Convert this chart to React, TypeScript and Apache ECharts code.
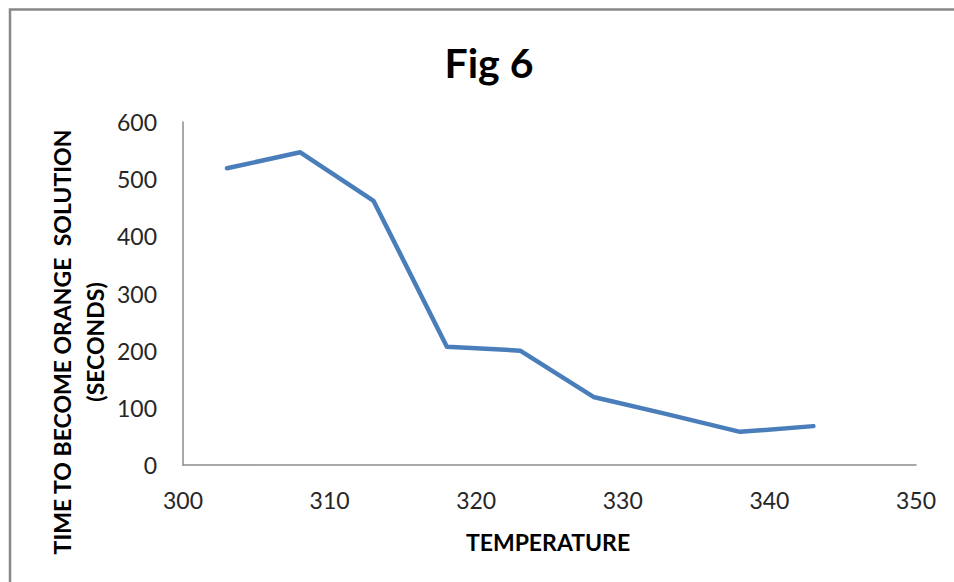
import React, { useEffect, useRef } from "react";
import * as echarts from "echarts";

const temperature = [303, 308, 313, 318, 323, 328, 333, 338, 343];
const timeSeconds = [519, 547, 462, 207, 200, 119, 89, 58, 68];

const chartTitle = "Fig 6";
const xAxisTitle = "TEMPERATURE";
const yAxisTitle = "TIME TO BECOME ORANGE  SOLUTION\n(SECONDS)";

const FONT = "Lato, 'Open Sans', sans-serif";

export default function App() {
  const ref = useRef<HTMLDivElement>(null);

  useEffect(() => {
    if (!ref.current) return;
    const chart = echarts.init(ref.current, undefined, { renderer: "svg" });
    chart.setOption({
      animation: false,
      backgroundColor: "#ffffff",
      grid: { left: 183, top: 122, right: 38, bottom: 117 },
      xAxis: {
        type: "value",
        min: 300,
        max: 350,
        interval: 10,
        splitLine: { show: false },
        axisTick: { show: false },
        axisLine: { show: true, lineStyle: { color: "#8c8c8c", width: 1.5 } },
        axisLabel: { color: "#262626", fontFamily: FONT, fontSize: 23, margin: 23 },
      },
      yAxis: {
        type: "value",
        min: 0,
        max: 600,
        interval: 100,
        splitLine: { show: false },
        axisTick: { show: false },
        axisLine: { show: true, lineStyle: { color: "#8c8c8c", width: 1.5 } },
        axisLabel: { color: "#262626", fontFamily: FONT, fontSize: 23, margin: 26 },
      },
      series: [
        {
          type: "line",
          data: temperature.map((t, i) => [t, timeSeconds[i]]),
          showSymbol: false,
          symbol: "none",
          lineStyle: { color: "#4a7ebb", width: 4.5, join: "round", cap: "round" },
        },
      ],
      graphic: [
        {
          type: "rect",
          shape: { x: 10, y: 9.5, width: 1000, height: 700 },
          style: { fill: "none", stroke: "#888888", lineWidth: 2.5 },
          silent: true,
        },
        {
          type: "text",
          x: 489,
          y: 62,
          style: {
            text: chartTitle,
            fontFamily: FONT,
            fontWeight: "bold",
            fontSize: 41,
            fill: "#000",
            align: "center",
            verticalAlign: "middle",
          },
        },
        {
          type: "text",
          x: 548,
          y: 542,
          style: {
            text: xAxisTitle,
            fontFamily: FONT,
            fontWeight: "bold",
            fontSize: 23,
            fill: "#000",
            align: "center",
            verticalAlign: "middle",
          },
        },
        {
          type: "text",
          x: 78.5,
          y: 342,
          rotation: Math.PI / 2,
          style: {
            text: yAxisTitle,
            fontFamily: FONT,
            fontWeight: "bold",
            fontSize: 23,
            lineHeight: 33,
            fill: "#000",
            align: "center",
            verticalAlign: "middle",
          },
        },
      ],
    });
    return () => chart.dispose();
  }, []);

  return (
    <div
      ref={ref}
      style={{ position: "fixed", left: 0, top: 0, width: 954, height: 582 }}
    />
  );
}
